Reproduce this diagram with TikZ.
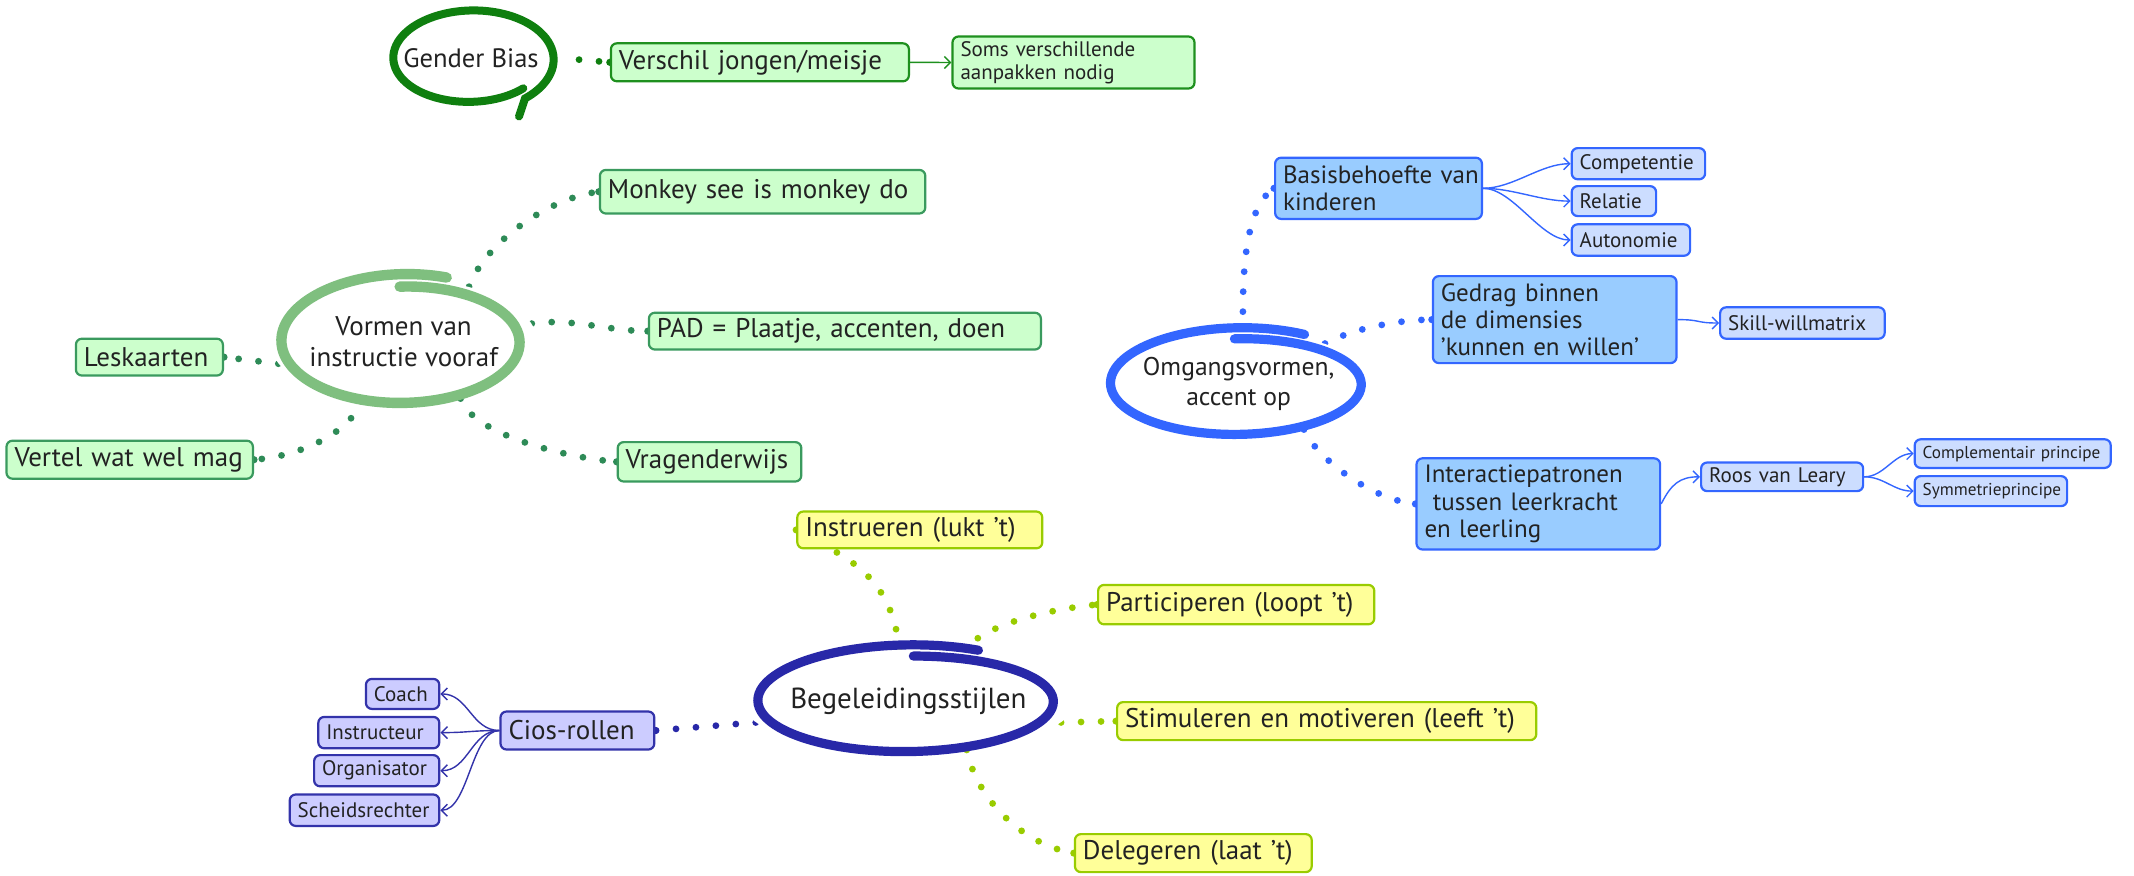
\documentclass[tikz,border=0pt]{standalone}
\usepackage{fontspec}
\setmainfont{PT Sans}
\usetikzlibrary{shapes.geometric,arrows.meta}
\pgfdeclarelayer{bg}
\pgfsetlayers{bg,main}
\definecolor{gbell}{HTML}{0F7F0F}
\definecolor{gbbor}{HTML}{1E901E}
\definecolor{lgreen}{HTML}{CCFFCC}
\definecolor{vorell}{HTML}{7FBF7F}
\definecolor{vordot}{HTML}{2E8B57}
\definecolor{vorbor}{HTML}{3A9A5E}
\definecolor{begell}{HTML}{2828A8}
\definecolor{yfill}{HTML}{FFFF99}
\definecolor{ybor}{HTML}{99CC00}
\definecolor{cfill}{HTML}{CCCCFF}
\definecolor{cbor}{HTML}{3333AA}
\definecolor{omgell}{HTML}{3366FF}
\definecolor{bfill}{HTML}{99CCFF}
\definecolor{sfill}{HTML}{CCDDFF}
\definecolor{ink}{HTML}{222222}
\tikzset{
  box/.style={draw, rounded corners=3pt, line width=1.1pt, inner xsep=4pt, inner ysep=2pt, anchor=north west, align=left, text=ink},
  sz/.style 2 args={text width=\dimexpr #1pt-8pt\relax, minimum height=#2pt},
  f1/.style={font=\fontsize{13.5}{14}\selectfont},
  fbig/.style={font=\fontsize{12.5}{13.6}\selectfont},
  fsmall/.style={font=\fontsize{10.5}{11.5}\selectfont},
  ftiny/.style={font=\fontsize{8.6}{10}\selectfont},
  hub/.style={ellipse, inner sep=0pt, fill=white, align=center, text=ink},
  gbox/.style={fill=lgreen, draw=gbbor},
  vbox/.style={fill=lgreen, draw=vorbor},
  ybox/.style={fill=yfill, draw=ybor},
  cbox/.style={fill=cfill, draw=cbor},
  bbox/.style={fill=bfill, draw=omgell},
  sbox/.style={fill=sfill, draw=omgell},
  dots/.style={line width=3.4pt, line cap=round, dash pattern=on 0pt off 10pt},
  link/.style={line width=0.7pt, -{Straight Barb[length=3pt,width=6pt]}},
}
\begin{document}
\begin{tikzpicture}[x=1pt,y=-1pt]
\useasboundingbox (0,0) rectangle (1067,437.5);
\begin{pgfonlayer}{bg}
\fill[white] (0,0) rectangle (1067,437.5);
\end{pgfonlayer}

% ---------- Gender Bias ----------
\node[hub, minimum width=80pt, minimum height=48pt, font=\fontsize{13.3}{14}\selectfont] (gb) at (235.5,29.3) {Gender Bias};
\node[box,f1,gbox,sz={149}{19}] (verschil) at (304.9,21.1) {Verschil~jongen/meisje};
\node[box,fsmall,gbox,sz={121}{26}] (soms) at (475.7,17.7) {Soms~verschillende\\aanpakken~nodig};

% ---------- Vormen van instructie vooraf ----------
\node[hub, minimum width=120.4pt, minimum height=62.6pt, font=\fontsize{13.5}{15.5}\selectfont] (vor) at (201.8,170.8) {Vormen van\\instructie vooraf};
\node[box,f1,vbox,sz={162.7}{21.8}] (monkey) at (299.4,84.4) {Monkey~see~is~monkey~do};
\node[box,f1,vbox,sz={196}{18.4}] (pad) at (323.9,155.8) {PAD~=~Plaatje,~accenten,~doen};
\node[box,f1,vbox,sz={91.8}{19.7}] (vrag) at (308.3,220.5) {Vragenderwijs};
\node[box,f1,vbox,sz={73.5}{18.4}] (lesk) at (37.4,168.8) {Leskaarten};
\node[box,f1,vbox,sz={123.2}{19}] (vertel) at (2.7,219.8) {Vertel~wat~wel~mag};

% ---------- Begeleidingsstijlen ----------
\node[hub, minimum width=149pt, minimum height=51.8pt, font=\fontsize{14.5}{16}\selectfont] (beg) at (454.2,350.5) {Begeleidingsstijlen};
\node[box,f1,ybox,sz={122.5}{18.4}] (instr) at (398.1,255.2) {Instrueren~(lukt~'t)};
\node[box,f1,ybox,sz={138.1}{19.7}] (part) at (548.5,291.9) {Participeren~(loopt~'t)};
\node[box,f1,ybox,sz={209.6}{19}] (stim) at (558,350.5) {Stimuleren~en~motiveren~(leeft~'t)};
\node[box,f1,ybox,sz={118.4}{19}] (deleg) at (536.9,416.5) {Delegeren~(laat~'t)};
\node[box,f1,cbox,sz={76.9}{19}] (cios) at (249.7,355.2) {Cios-rollen};
\node[box,fsmall,cbox,sz={36.7}{15}] (coach) at (182.4,338.9) {Coach};
\node[box,fsmall,cbox,sz={60.5}{15.7}] (instructeur) at (158.6,357.9) {Instructeur};
\node[box,fsmall,cbox,sz={62.6}{15.6}] (org) at (156.5,377.0) {Organisator};
\node[box,fsmall,cbox,sz={74.8}{15.7}] (scheids) at (144.3,396.7) {Scheidsrechter};

% ---------- Omgangsvormen ----------
\node[hub, minimum width=126.6pt, minimum height=51.8pt, font=\fontsize{12.8}{15}\selectfont] (omg) at (619.3,191.9) {Omgangsvormen,\\accent op};
\node[box,fbig,bbox,sz={103.4}{30.6}] (basis) at (637,78.3) {Basisbehoefte~van\\kinderen};
\node[box,fsmall,sbox,sz={66.7}{15.6}] (comp) at (785.3,73.5) {Competentie};
\node[box,fsmall,sbox,sz={42.2}{15}] (rel) at (785.3,92.5) {Relatie};
\node[box,fsmall,sbox,sz={59.2}{15.7}] (auto) at (785.3,111.6) {Autonomie};
\node[box,fbig,bbox,sz={121.8}{43.5}] (gedrag) at (715.9,137.5) {Gedrag~binnen\\de~dimensies\\'kunnen~en~willen'};
\node[box,fsmall,sbox,sz={82.3}{15.7}] (skill) at (859.5,153.1) {Skill-willmatrix};
\node[box,fbig,bbox,sz={121.8}{45.6}] (inter) at (707.7,228.6) {Interactiepatronen\\\ tussen~leerkracht\\en~leerling};
\node[box,fsmall,sbox,sz={81}{14.3}] (roos) at (850,230.7) {Roos~van~Leary};
\node[box,ftiny,sbox,sz={98}{14.3}] (compl) at (956.8,219.1) {Complementair~principe};
\node[box,ftiny,sbox,sz={76.2}{15}] (sym) at (956.8,237.5) {Symmetrieprincipe};

% ---------- hand-drawn rings ----------
\draw[gbell, line width=4pt, line cap=round]
  plot[smooth, samples=90, domain=0:365, variable=\t]
  ({235.5+(40-3+5*\t/365)*cos(\t+45)}, {29.3+(24-3+5*\t/365)*sin(\t+45)})
  -- ++(-3,9);
\draw[vorell, line width=5.2pt, line cap=round]
  plot[smooth, samples=100, domain=0:382, variable=\t]
  ({201.8+(60.2-3.8+6.6*\t/382)*cos(\t-92)}, {170.8+(31.3-3.8+6.6*\t/382)*sin(\t-92)});
\draw[begell, line width=4.6pt, line cap=round]
  plot[smooth, samples=100, domain=0:385, variable=\t]
  ({454.2+(74.5-3.4+6*\t/385)*cos(\t-88)}, {350.5+(25.9-3.4+6*\t/385)*sin(\t-88)});
\draw[omgell, line width=4.6pt, line cap=round]
  plot[smooth, samples=100, domain=0:392, variable=\t]
  ({619.3+(63.3-3.4+6*\t/392)*cos(\t-92)}, {191.9+(25.9-3.4+6*\t/392)*sin(\t-92)});

% ---------- dotted connectors ----------
\begin{pgfonlayer}{bg}
\draw[dots, gbell, dash phase=4pt] (gb.east) -- (verschil.west);
\fill[gbell] (verschil.west) circle (1.8pt);

\draw[dots, vordot] (vor.40) .. controls +(8,-22) and +(-25,3) .. (monkey.west);
\draw[dots, vordot] (vor.8) .. controls +(20,-3) and +(-20,0) .. (pad.west);
\draw[dots, vordot] (vor.-45) .. controls +(6,18) and +(-25,-2) .. (vrag.west);
\draw[dots, vordot] (vor.190) -- (lesk.east);
\draw[dots, vordot] (vor.-125) .. controls +(-6,15) and +(25,-2) .. (vertel.east);
\foreach \n in {monkey.west,pad.west,vrag.west,lesk.east,vertel.east}
  \fill[vordot] (\n) circle (1.8pt);

\draw[dots, ybor] (beg.100) .. controls +(-4,-40) and +(20,12) .. (instr.west);
\draw[dots, ybor] (beg.42) .. controls +(10,-14) and +(-22,2) .. (part.west);
\draw[dots, ybor] (beg.-8) -- (stim.west);
\draw[dots, ybor] (beg.-40) .. controls +(5,25) and +(-25,-4) .. (deleg.west);
\foreach \n in {instr.west,part.west,stim.west,deleg.west}
  \fill[ybor] (\n) circle (1.8pt);
\draw[dots, begell] (beg.188) -- (cios.east);
\fill[begell] (cios.east) circle (1.8pt);

\draw[dots, omgell] (omg.85) .. controls +(-1,-40) and +(-12,8) .. (basis.west);
\draw[dots, omgell] (omg.25) .. controls +(15,-8) and +(-15,0) .. (gedrag.west);
\draw[dots, omgell] (omg.-35) .. controls +(6,14) and +(-22,-2) .. (inter.west);
\foreach \n in {basis.west,gedrag.west,inter.west}
  \fill[omgell] (\n) circle (1.8pt);

% ---------- arrow links ----------
\draw[link, gbbor] (verschil.east) -- (soms.west);
\foreach \n in {comp,rel,auto}
  \draw[link, omgell] (basis.east) .. controls +(15,0) and +(-15,0) .. (\n.west);
\draw[link, omgell] (gedrag.east) .. controls +(12,0) and +(-12,0) .. (skill.west);
\draw[link, omgell] (inter.east) .. controls +(5,-10) and +(-10,0) .. (roos.west);
\foreach \n in {compl,sym}
  \draw[link, omgell] (roos.east) .. controls +(10,0) and +(-10,0) .. (\n.west);
\foreach \n in {coach,instructeur,org,scheids}
  \draw[link, cbor] (cios.west) .. controls +(-14,0) and +(14,0) .. (\n.east);
\end{pgfonlayer}
\end{tikzpicture}
\end{document}
